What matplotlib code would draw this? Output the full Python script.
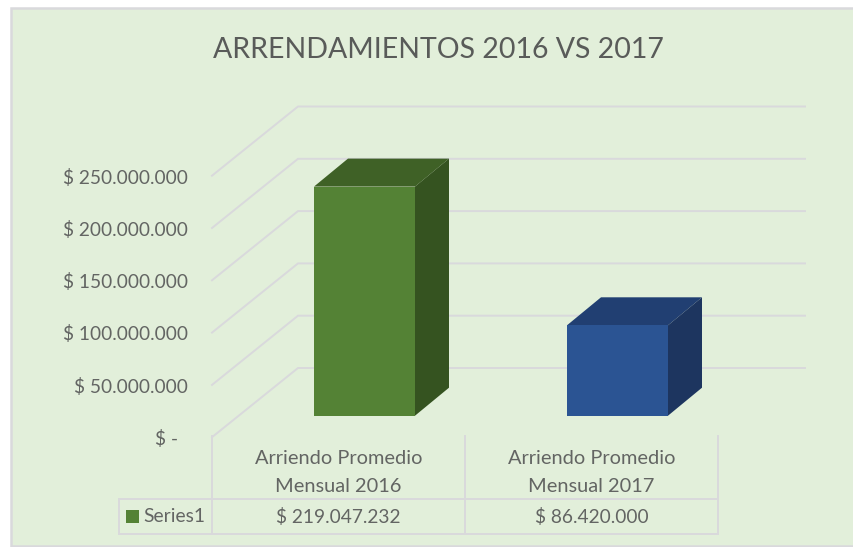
#!/usr/bin/env python
# coding=utf-8

import matplotlib
matplotlib.use('Agg')
import matplotlib.pyplot as plt
from matplotlib.patches import Polygon, Rectangle

plt.rcParams['font.family'] = ['Lato', 'DejaVu Sans']

title = 'ARRENDAMIENTOS 2016 VS 2017'
categories = ['Arriendo Promedio\nMensual 2016', 'Arriendo Promedio\nMensual 2017']
values = [219047232, 86420000]
value_labels = ['$ 219.047.232', '$ 86.420.000']
bar_colors = ['#548235', '#2B5493']
top_colors = ['#3F6126', '#213F72']
side_colors = ['#355320', '#1D355F']
y_ticks = [0, 50000000, 100000000, 150000000, 200000000, 250000000]
y_labels = ['$ -', '$ 50.000.000', '$ 100.000.000', '$ 150.000.000', '$ 200.000.000', '$ 250.000.000']
series_name = 'Series1'

W, H = 854, 547
BG = '#E2EFDA'
LINE = '#D9D9DC'
TXT = '#636563'

# scales: one category = 253 px, 1 million = 1.046 px
px_x = 253.0
px_y = 1.046e-6
base_y = 415.7
x0 = 364.5

fig = plt.figure(figsize=(W / 100, H / 100), dpi=100, facecolor='white')

# chart area, pixel coords
px = fig.add_axes([0, 0, 1, 1], zorder=0)
px.set_xlim(0, W)
px.set_ylim(H, 0)
px.axis('off')
px.add_patch(Rectangle((11, 8), W, 538, fc=BG, ec=LINE, lw=1.8))

# value axes for bars + grid
ax = fig.add_axes([0, 0, 1, 1], zorder=1)
ax.patch.set_alpha(0)
ax.axis('off')
ax.set_xlim(-x0 / px_x, (W - x0) / px_x)
ax.set_ylim(-(H - base_y) / px_y, base_y / px_y)

dx = 34 / px_x
dy = 28 / px_y
front_x = (212 - x0) / px_x
back_x = (298 - x0) / px_x
end_x = (805 - x0) / px_x
front_off = -21.5 / px_y
back_off = 47.7 / px_y

for v in y_ticks:
    ax.plot([front_x, back_x, end_x], [v + front_off, v + back_off, v + back_off],
            color=LINE, lw=1.4, solid_joinstyle='miter', zorder=1)

idx = list(range(len(values)))
w = 101 / px_x
ax.bar(idx, values, width=w, color=bar_colors, zorder=4)
for i, v in zip(idx, values):
    l, r = i - w / 2, i + w / 2
    ax.add_patch(Polygon([(l, v), (r, v), (r + dx, v + dy), (l + dx, v + dy)],
                         fc=top_colors[i], ec='none', zorder=3))
    ax.add_patch(Polygon([(r, 0), (r + dx, dy), (r + dx, v + dy), (r, v)],
                         fc=side_colors[i], ec='none', zorder=3))

# overlay: table + text
ov = fig.add_axes([0, 0, 1, 1], zorder=2)
ov.patch.set_alpha(0)
ov.axis('off')
ov.set_xlim(0, W)
ov.set_ylim(H, 0)

for x, y1 in [(212, 436), (465, 436), (718, 436)]:
    ov.plot([x, x], [y1, 534], color=LINE, lw=1.4)
ov.plot([119, 119], [499, 534], color=LINE, lw=1.4)
ov.plot([119, 718], [499, 499], color=LINE, lw=1.4)
ov.plot([119, 718], [534, 534], color=LINE, lw=1.4)

ov.text(438.5, 50, title, ha='center', va='center', fontsize=20.5, color='#595B59')

for v, lab in zip(y_ticks, y_labels):
    y = 439 - v * px_y
    x = 178 if v == 0 else 188
    ov.text(x, y, lab, ha='right', va='center', fontsize=13.8, color=TXT)

for i, (cat, val) in enumerate(zip(categories, value_labels)):
    xc = 338.5 + i * 253
    line1, line2 = cat.split('\n')
    ov.text(xc, 459, line1, ha='center', va='center', fontsize=14.4, color=TXT)
    ov.text(xc, 487, line2, ha='center', va='center', fontsize=14.4, color=TXT)
    ov.text(xc, 517, val, ha='center', va='center', fontsize=13.8, color=TXT)

ov.add_patch(Rectangle((126, 510), 13, 13, fc=bar_colors[0], ec='none'))
ov.text(143, 517, series_name, ha='left', va='center', fontsize=13.9, color=TXT)

plt.savefig('out.png', dpi=100)
